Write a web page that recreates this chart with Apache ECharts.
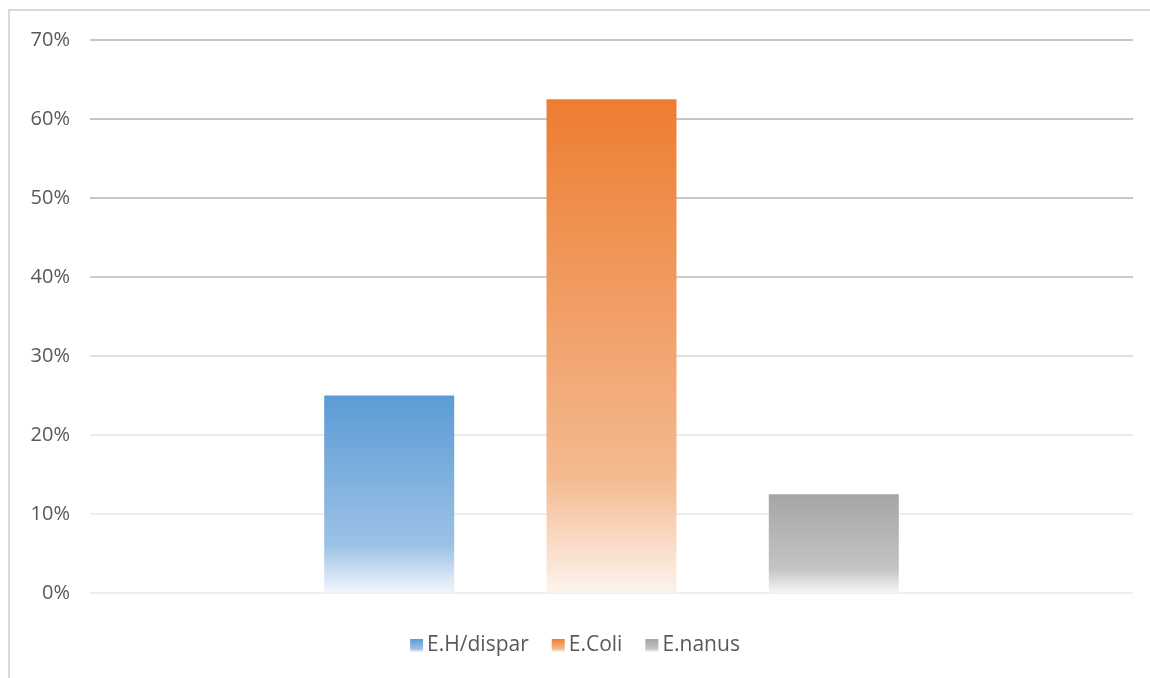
<!DOCTYPE html>
<html>
<head>
<meta charset="utf-8">
<script src="https://cdn.jsdelivr.net/npm/echarts@6/dist/echarts.min.js"></script>
<style>
html,body{margin:0;padding:0;background:#fff;}
#c{width:1150px;height:678px;}
</style>
</head>
<body>
<div id="c"></div>
<script>
const categories = [''];
const seriesNames = ['E.H/dispar', 'E.Coli', 'E.nanus'];
const seriesValues = [[25], [62.5], [12.5]];
const yTicks = [0, 10, 20, 30, 40, 50, 60, 70];

const palettes = [
  ['#5b9bd5', '#9cc2e6', '#f2f6fc'],
  ['#ed7d31', '#f4b98f', '#fdf4ee'],
  ['#a5a5a5', '#c4c4c4', '#f7f7f7']
];

function grad(p) {
  return new echarts.graphic.LinearGradient(0, 0, 0, 1, [
    {offset: 0, color: p[0]},
    {offset: 0.76, color: p[1]},
    {offset: 1, color: p[2]}
  ]);
}

const chart = echarts.init(document.getElementById('c'), null, {renderer: 'canvas'});
const font = '"Open Sans", "Liberation Sans", sans-serif';
chart.setOption({
  animation: false,
  backgroundColor: '#fff',
  graphic: [{
    type: 'rect', silent: true, z: -1,
    shape: {x: 9, y: 10, width: 1200, height: 700},
    style: {fill: 'none', stroke: '#d9d9d9', lineWidth: 2}
  }],
  grid: {left: 90, right: 17, top: 40, bottom: 85, containLabel: false},
  legend: {
    top: 630, left: 'center',
    itemWidth: 13, itemHeight: 13, itemGap: 23,
    icon: 'rect',
    textStyle: {fontFamily: font, fontSize: 21, color: '#595959', padding: [0, 0, 0, -1]},
    data: seriesNames
  },
  xAxis: {
    type: 'category', data: categories,
    axisLine: {show: false}, axisTick: {show: false}, axisLabel: {show: false}
  },
  yAxis: {
    type: 'value', min: yTicks[0], max: yTicks[yTicks.length - 1], interval: 10,
    axisLine: {show: false}, axisTick: {show: false},
    axisLabel: {formatter: '{value}%', fontFamily: font, fontSize: 20, color: '#595959', margin: 20},
    splitLine: {lineStyle: {width: 2, color: ['#eeeeee', '#eeeeee', '#ebebeb', '#e0e0e0', '#cccccc', '#c8c8c8', '#c6c6c6', '#c6c6c6']}}
  },
  series: seriesNames.map((n, i) => ({
    name: n, type: 'bar', data: seriesValues[i],
    barWidth: 130, barGap: '71%',
    itemStyle: {color: grad(palettes[i])}
  }))
});
</script>
</body>
</html>
